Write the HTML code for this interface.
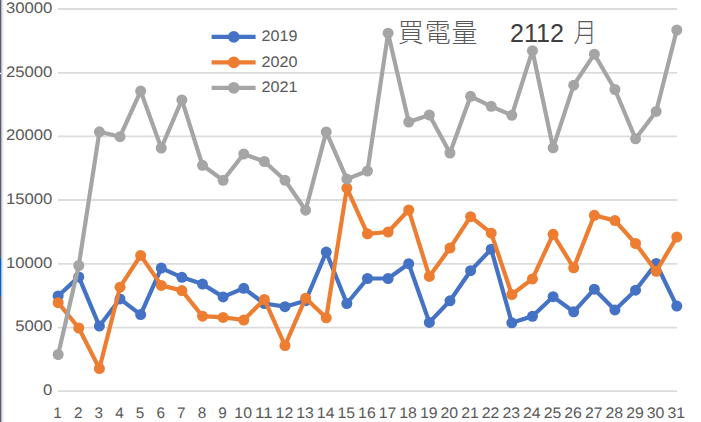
<!DOCTYPE html>
<html><head><meta charset="utf-8"><style>
html,body{margin:0;padding:0;background:#fff;}
body{width:701px;height:422px;overflow:hidden;position:relative;}
svg{position:absolute;left:0;top:0;}
.t{font-family:"Liberation Sans",sans-serif;font-size:15.3px;text-rendering:geometricPrecision;fill:#595959;}
.cjk{font-family:"Liberation Sans","Noto Sans CJK TC",sans-serif;font-weight:300;font-size:26px;letter-spacing:0.9px;fill:#595959;}
.num{font-family:"Liberation Sans",sans-serif;font-size:25px;fill:#404040;}
</style></head><body>
<svg width="701" height="422" viewBox="0 0 701 422">
<rect x="0" y="0" width="1.2" height="422" fill="#5e5e5e"/>
<rect x="0" y="258" width="1.2" height="38" fill="#0066c4"/>
<rect x="1.2" y="0" width="0.9" height="422" fill="#a9b3d1"/>
<rect x="0" y="72.8" width="1.2" height="1.3" fill="#ffffff"/>
<rect x="2.1" y="0" width="1.2" height="422" fill="#e4e4ea"/>
<line x1="57.9" y1="391.10" x2="677.1" y2="391.10" stroke="#dcdcdc" stroke-width="1.8"/>
<line x1="57.9" y1="327.60" x2="677.1" y2="327.60" stroke="#dcdcdc" stroke-width="1.8"/>
<line x1="57.9" y1="263.90" x2="677.1" y2="263.90" stroke="#dcdcdc" stroke-width="1.8"/>
<line x1="57.9" y1="200.00" x2="677.1" y2="200.00" stroke="#dcdcdc" stroke-width="1.8"/>
<line x1="57.9" y1="136.40" x2="677.1" y2="136.40" stroke="#dcdcdc" stroke-width="1.8"/>
<line x1="57.9" y1="72.80" x2="677.1" y2="72.80" stroke="#dcdcdc" stroke-width="1.8"/>
<line x1="57.9" y1="9.00" x2="677.1" y2="9.00" stroke="#dcdcdc" stroke-width="1.8"/>

<g class="t">
<text x="52.4" y="394.90" text-anchor="end" textLength="9.3" lengthAdjust="spacingAndGlyphs">0</text>
<text x="52.4" y="331.40" text-anchor="end" textLength="37.2" lengthAdjust="spacingAndGlyphs">5000</text>
<text x="52.4" y="267.70" text-anchor="end" textLength="46.5" lengthAdjust="spacingAndGlyphs">10000</text>
<text x="52.4" y="203.80" text-anchor="end" textLength="46.5" lengthAdjust="spacingAndGlyphs">15000</text>
<text x="52.4" y="140.20" text-anchor="end" textLength="46.5" lengthAdjust="spacingAndGlyphs">20000</text>
<text x="52.4" y="76.60" text-anchor="end" textLength="46.5" lengthAdjust="spacingAndGlyphs">25000</text>
<text x="52.4" y="12.80" text-anchor="end" textLength="46.5" lengthAdjust="spacingAndGlyphs">30000</text>

<text x="57.56" y="417.8" text-anchor="middle">1</text>
<text x="78.18" y="417.8" text-anchor="middle">2</text>
<text x="98.80" y="417.8" text-anchor="middle">3</text>
<text x="119.42" y="417.8" text-anchor="middle">4</text>
<text x="140.05" y="417.8" text-anchor="middle">5</text>
<text x="160.67" y="417.8" text-anchor="middle">6</text>
<text x="181.29" y="417.8" text-anchor="middle">7</text>
<text x="201.91" y="417.8" text-anchor="middle">8</text>
<text x="222.53" y="417.8" text-anchor="middle">9</text>
<text x="243.15" y="417.8" text-anchor="middle" textLength="17.6" lengthAdjust="spacingAndGlyphs">10</text>
<text x="263.77" y="417.8" text-anchor="middle" textLength="17.6" lengthAdjust="spacingAndGlyphs">11</text>
<text x="284.40" y="417.8" text-anchor="middle" textLength="17.6" lengthAdjust="spacingAndGlyphs">12</text>
<text x="305.02" y="417.8" text-anchor="middle" textLength="17.6" lengthAdjust="spacingAndGlyphs">13</text>
<text x="325.64" y="417.8" text-anchor="middle" textLength="17.6" lengthAdjust="spacingAndGlyphs">14</text>
<text x="346.26" y="417.8" text-anchor="middle" textLength="17.6" lengthAdjust="spacingAndGlyphs">15</text>
<text x="366.88" y="417.8" text-anchor="middle" textLength="17.6" lengthAdjust="spacingAndGlyphs">16</text>
<text x="387.50" y="417.8" text-anchor="middle" textLength="17.6" lengthAdjust="spacingAndGlyphs">17</text>
<text x="408.12" y="417.8" text-anchor="middle" textLength="17.6" lengthAdjust="spacingAndGlyphs">18</text>
<text x="428.75" y="417.8" text-anchor="middle" textLength="17.6" lengthAdjust="spacingAndGlyphs">19</text>
<text x="449.37" y="417.8" text-anchor="middle" textLength="17.6" lengthAdjust="spacingAndGlyphs">20</text>
<text x="469.99" y="417.8" text-anchor="middle" textLength="17.6" lengthAdjust="spacingAndGlyphs">21</text>
<text x="490.61" y="417.8" text-anchor="middle" textLength="17.6" lengthAdjust="spacingAndGlyphs">22</text>
<text x="511.23" y="417.8" text-anchor="middle" textLength="17.6" lengthAdjust="spacingAndGlyphs">23</text>
<text x="531.85" y="417.8" text-anchor="middle" textLength="17.6" lengthAdjust="spacingAndGlyphs">24</text>
<text x="552.47" y="417.8" text-anchor="middle" textLength="17.6" lengthAdjust="spacingAndGlyphs">25</text>
<text x="573.10" y="417.8" text-anchor="middle" textLength="17.6" lengthAdjust="spacingAndGlyphs">26</text>
<text x="593.72" y="417.8" text-anchor="middle" textLength="17.6" lengthAdjust="spacingAndGlyphs">27</text>
<text x="614.34" y="417.8" text-anchor="middle" textLength="17.6" lengthAdjust="spacingAndGlyphs">28</text>
<text x="634.96" y="417.8" text-anchor="middle" textLength="17.6" lengthAdjust="spacingAndGlyphs">29</text>
<text x="655.58" y="417.8" text-anchor="middle" textLength="17.6" lengthAdjust="spacingAndGlyphs">30</text>
<text x="676.20" y="417.8" text-anchor="middle" textLength="17.6" lengthAdjust="spacingAndGlyphs">31</text>

<line x1="211.6" y1="36.8" x2="255.6" y2="36.8" stroke="#4472C4" stroke-width="4.2"/><circle cx="233.8" cy="36.8" r="5.9" fill="#4472C4"/>
<text x="261.5" y="41.4" textLength="36" lengthAdjust="spacingAndGlyphs">2019</text>
<line x1="211.6" y1="62.3" x2="255.6" y2="62.3" stroke="#ED7D31" stroke-width="4.2"/><circle cx="233.8" cy="62.3" r="5.9" fill="#ED7D31"/>
<text x="261.5" y="66.9" textLength="36" lengthAdjust="spacingAndGlyphs">2020</text>
<line x1="211.6" y1="87.8" x2="255.6" y2="87.8" stroke="#A5A5A5" stroke-width="4.2"/><circle cx="233.8" cy="87.8" r="5.9" fill="#A5A5A5"/>
<text x="261.5" y="92.4" textLength="36" lengthAdjust="spacingAndGlyphs">2021</text>

</g>
<polyline points="58.16,296.00 78.78,276.90 99.40,326.10 120.02,298.90 140.65,314.60 161.27,268.10 181.89,277.30 202.51,284.10 223.13,296.90 243.75,288.30 264.37,303.50 285.00,306.70 305.62,300.70 326.24,252.10 346.86,303.50 367.48,278.50 388.10,278.50 408.72,263.70 429.35,322.40 449.97,300.80 470.59,270.70 491.21,249.20 511.83,322.80 532.45,316.30 553.07,296.70 573.70,311.80 594.32,289.20 614.94,309.90 635.56,290.20 656.18,263.50 676.80,306.10" fill="none" stroke="#4472C4" stroke-width="4.2" stroke-linejoin="round" stroke-linecap="round"/>
<circle cx="58.16" cy="296.00" r="5.5" fill="#4472C4"/><circle cx="78.78" cy="276.90" r="5.5" fill="#4472C4"/><circle cx="99.40" cy="326.10" r="5.5" fill="#4472C4"/><circle cx="120.02" cy="298.90" r="5.5" fill="#4472C4"/><circle cx="140.65" cy="314.60" r="5.5" fill="#4472C4"/><circle cx="161.27" cy="268.10" r="5.5" fill="#4472C4"/><circle cx="181.89" cy="277.30" r="5.5" fill="#4472C4"/><circle cx="202.51" cy="284.10" r="5.5" fill="#4472C4"/><circle cx="223.13" cy="296.90" r="5.5" fill="#4472C4"/><circle cx="243.75" cy="288.30" r="5.5" fill="#4472C4"/><circle cx="264.37" cy="303.50" r="5.5" fill="#4472C4"/><circle cx="285.00" cy="306.70" r="5.5" fill="#4472C4"/><circle cx="305.62" cy="300.70" r="5.5" fill="#4472C4"/><circle cx="326.24" cy="252.10" r="5.5" fill="#4472C4"/><circle cx="346.86" cy="303.50" r="5.5" fill="#4472C4"/><circle cx="367.48" cy="278.50" r="5.5" fill="#4472C4"/><circle cx="388.10" cy="278.50" r="5.5" fill="#4472C4"/><circle cx="408.72" cy="263.70" r="5.5" fill="#4472C4"/><circle cx="429.35" cy="322.40" r="5.5" fill="#4472C4"/><circle cx="449.97" cy="300.80" r="5.5" fill="#4472C4"/><circle cx="470.59" cy="270.70" r="5.5" fill="#4472C4"/><circle cx="491.21" cy="249.20" r="5.5" fill="#4472C4"/><circle cx="511.83" cy="322.80" r="5.5" fill="#4472C4"/><circle cx="532.45" cy="316.30" r="5.5" fill="#4472C4"/><circle cx="553.07" cy="296.70" r="5.5" fill="#4472C4"/><circle cx="573.70" cy="311.80" r="5.5" fill="#4472C4"/><circle cx="594.32" cy="289.20" r="5.5" fill="#4472C4"/><circle cx="614.94" cy="309.90" r="5.5" fill="#4472C4"/><circle cx="635.56" cy="290.20" r="5.5" fill="#4472C4"/><circle cx="656.18" cy="263.50" r="5.5" fill="#4472C4"/><circle cx="676.80" cy="306.10" r="5.5" fill="#4472C4"/>

<polyline points="58.16,302.70 78.78,328.00 99.40,368.50 120.02,287.20 140.65,255.40 161.27,285.40 181.89,290.60 202.51,316.20 223.13,317.40 243.75,320.00 264.37,299.40 285.00,345.50 305.62,298.20 326.24,317.80 346.86,188.20 367.48,233.80 388.10,232.00 408.72,210.00 429.35,276.40 449.97,248.10 470.59,216.70 491.21,233.20 511.83,294.50 532.45,278.90 553.07,234.30 573.70,267.80 594.32,215.30 614.94,220.60 635.56,243.50 656.18,271.30 676.80,237.10" fill="none" stroke="#ED7D31" stroke-width="4.2" stroke-linejoin="round" stroke-linecap="round"/>
<circle cx="58.16" cy="302.70" r="5.5" fill="#ED7D31"/><circle cx="78.78" cy="328.00" r="5.5" fill="#ED7D31"/><circle cx="99.40" cy="368.50" r="5.5" fill="#ED7D31"/><circle cx="120.02" cy="287.20" r="5.5" fill="#ED7D31"/><circle cx="140.65" cy="255.40" r="5.5" fill="#ED7D31"/><circle cx="161.27" cy="285.40" r="5.5" fill="#ED7D31"/><circle cx="181.89" cy="290.60" r="5.5" fill="#ED7D31"/><circle cx="202.51" cy="316.20" r="5.5" fill="#ED7D31"/><circle cx="223.13" cy="317.40" r="5.5" fill="#ED7D31"/><circle cx="243.75" cy="320.00" r="5.5" fill="#ED7D31"/><circle cx="264.37" cy="299.40" r="5.5" fill="#ED7D31"/><circle cx="285.00" cy="345.50" r="5.5" fill="#ED7D31"/><circle cx="305.62" cy="298.20" r="5.5" fill="#ED7D31"/><circle cx="326.24" cy="317.80" r="5.5" fill="#ED7D31"/><circle cx="346.86" cy="188.20" r="5.5" fill="#ED7D31"/><circle cx="367.48" cy="233.80" r="5.5" fill="#ED7D31"/><circle cx="388.10" cy="232.00" r="5.5" fill="#ED7D31"/><circle cx="408.72" cy="210.00" r="5.5" fill="#ED7D31"/><circle cx="429.35" cy="276.40" r="5.5" fill="#ED7D31"/><circle cx="449.97" cy="248.10" r="5.5" fill="#ED7D31"/><circle cx="470.59" cy="216.70" r="5.5" fill="#ED7D31"/><circle cx="491.21" cy="233.20" r="5.5" fill="#ED7D31"/><circle cx="511.83" cy="294.50" r="5.5" fill="#ED7D31"/><circle cx="532.45" cy="278.90" r="5.5" fill="#ED7D31"/><circle cx="553.07" cy="234.30" r="5.5" fill="#ED7D31"/><circle cx="573.70" cy="267.80" r="5.5" fill="#ED7D31"/><circle cx="594.32" cy="215.30" r="5.5" fill="#ED7D31"/><circle cx="614.94" cy="220.60" r="5.5" fill="#ED7D31"/><circle cx="635.56" cy="243.50" r="5.5" fill="#ED7D31"/><circle cx="656.18" cy="271.30" r="5.5" fill="#ED7D31"/><circle cx="676.80" cy="237.10" r="5.5" fill="#ED7D31"/>

<polyline points="58.16,354.50 78.78,265.50 99.40,131.80 120.02,136.70 140.65,91.10 161.27,148.00 181.89,99.90 202.51,165.30 223.13,180.30 243.75,154.00 264.37,161.50 285.00,180.30 305.62,210.20 326.24,131.90 346.86,179.10 367.48,171.00 388.10,33.20 408.72,122.00 429.35,115.00 449.97,153.00 470.59,96.30 491.21,106.30 511.83,115.30 532.45,50.70 553.07,147.80 573.70,85.20 594.32,54.20 614.94,89.50 635.56,138.80 656.18,111.40 676.80,30.00" fill="none" stroke="#A5A5A5" stroke-width="4.2" stroke-linejoin="round" stroke-linecap="round"/>
<circle cx="58.16" cy="354.50" r="5.5" fill="#A5A5A5"/><circle cx="78.78" cy="265.50" r="5.5" fill="#A5A5A5"/><circle cx="99.40" cy="131.80" r="5.5" fill="#A5A5A5"/><circle cx="120.02" cy="136.70" r="5.5" fill="#A5A5A5"/><circle cx="140.65" cy="91.10" r="5.5" fill="#A5A5A5"/><circle cx="161.27" cy="148.00" r="5.5" fill="#A5A5A5"/><circle cx="181.89" cy="99.90" r="5.5" fill="#A5A5A5"/><circle cx="202.51" cy="165.30" r="5.5" fill="#A5A5A5"/><circle cx="223.13" cy="180.30" r="5.5" fill="#A5A5A5"/><circle cx="243.75" cy="154.00" r="5.5" fill="#A5A5A5"/><circle cx="264.37" cy="161.50" r="5.5" fill="#A5A5A5"/><circle cx="285.00" cy="180.30" r="5.5" fill="#A5A5A5"/><circle cx="305.62" cy="210.20" r="5.5" fill="#A5A5A5"/><circle cx="326.24" cy="131.90" r="5.5" fill="#A5A5A5"/><circle cx="346.86" cy="179.10" r="5.5" fill="#A5A5A5"/><circle cx="367.48" cy="171.00" r="5.5" fill="#A5A5A5"/><circle cx="388.10" cy="33.20" r="5.5" fill="#A5A5A5"/><circle cx="408.72" cy="122.00" r="5.5" fill="#A5A5A5"/><circle cx="429.35" cy="115.00" r="5.5" fill="#A5A5A5"/><circle cx="449.97" cy="153.00" r="5.5" fill="#A5A5A5"/><circle cx="470.59" cy="96.30" r="5.5" fill="#A5A5A5"/><circle cx="491.21" cy="106.30" r="5.5" fill="#A5A5A5"/><circle cx="511.83" cy="115.30" r="5.5" fill="#A5A5A5"/><circle cx="532.45" cy="50.70" r="5.5" fill="#A5A5A5"/><circle cx="553.07" cy="147.80" r="5.5" fill="#A5A5A5"/><circle cx="573.70" cy="85.20" r="5.5" fill="#A5A5A5"/><circle cx="594.32" cy="54.20" r="5.5" fill="#A5A5A5"/><circle cx="614.94" cy="89.50" r="5.5" fill="#A5A5A5"/><circle cx="635.56" cy="138.80" r="5.5" fill="#A5A5A5"/><circle cx="656.18" cy="111.40" r="5.5" fill="#A5A5A5"/><circle cx="676.80" cy="30.00" r="5.5" fill="#A5A5A5"/>

<text class="cjk" x="397.8" y="41.5">買電量</text>
<text class="num" x="510" y="41.8" textLength="54" lengthAdjust="spacingAndGlyphs">2112</text>
<text class="cjk" x="573.5" y="41.8" textLength="24" lengthAdjust="spacingAndGlyphs">月</text>
</svg>
</body></html>
